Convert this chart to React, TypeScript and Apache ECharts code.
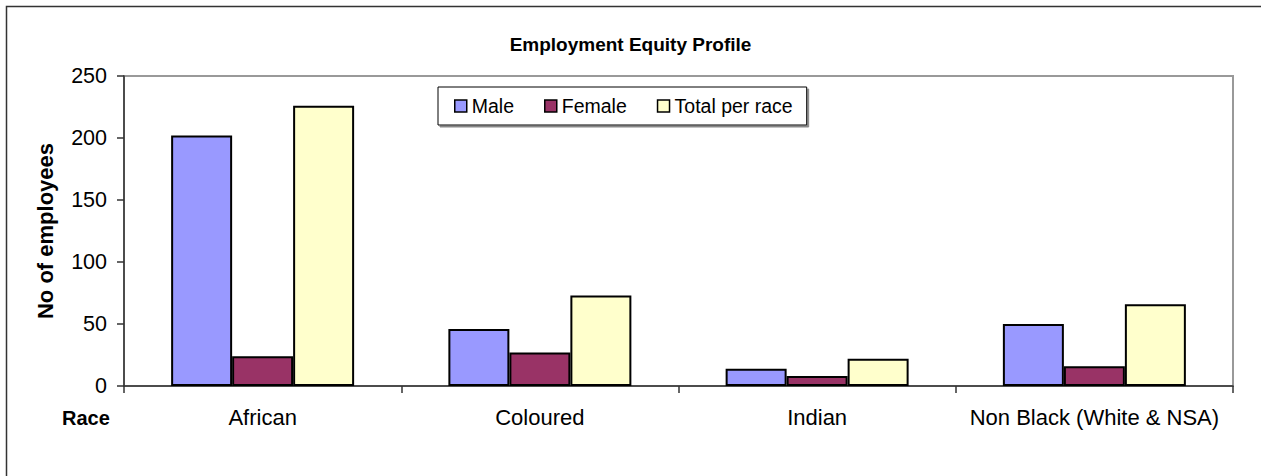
import React, { useEffect, useRef } from "react";
import * as echarts from "echarts";

const categories = ["African", "Coloured", "Indian", "Non Black (White & NSA)"];
const male = [202, 46, 14, 50];
const female = [24, 27, 8, 16];
const totalPerRace = [226, 73, 22, 66];
const seriesNames = ["Male", "Female", "Total per race"];

const FONT = "'Liberation Sans', Arial, sans-serif";

export default function App() {
  const ref = useRef<HTMLDivElement>(null);
  useEffect(() => {
    if (!ref.current) return;
    const chart = echarts.init(ref.current, null, { renderer: "svg" });
    const barStyle = (color: string) => ({ color, borderColor: "#000", borderWidth: 2 });
    chart.setOption({
      animation: false,
      backgroundColor: "#fff",
      textStyle: { fontFamily: FONT },
      title: {
        text: "Employment Equity Profile",
        left: "center",
        top: 30,
        textStyle: { fontFamily: FONT, fontSize: 19, fontWeight: "bold", color: "#000" },
      },
      legend: {
        left: 438,
        top: 87,
        padding: [9, 14, 9, 16],
        itemGap: 30,
        itemWidth: 12,
        itemHeight: 12,
        icon: "rect",
        borderColor: "#000",
        borderWidth: 1,
        backgroundColor: "#fff",
        shadowColor: "#888",
        shadowOffsetX: 2,
        shadowOffsetY: 2,
        shadowBlur: 0,
        textStyle: { fontFamily: FONT, fontSize: 19.5, color: "#000" },
        itemStyle: { borderColor: "#000", borderWidth: 1.5 },
        data: seriesNames,
      },
      grid: {
        left: 124,
        right: 28,
        top: 76,
        bottom: 90,
        show: true,
        borderColor: "#999",
        borderWidth: 2,
      },
      xAxis: {
        type: "category",
        data: categories,
        axisLine: { lineStyle: { color: "#333", width: 1.5 } },
        axisTick: { show: true, interval: 0, length: 7, lineStyle: { color: "#333", width: 1.5 } },
        axisLabel: { interval: 0, fontFamily: FONT, fontSize: 22, color: "#000", margin: 20 },
      },
      yAxis: {
        type: "value",
        min: 0,
        max: 250,
        interval: 50,
        name: "No of employees",
        nameLocation: "middle",
        nameRotate: 90,
        nameGap: 68,
        nameTextStyle: { fontFamily: FONT, fontSize: 22, fontWeight: "bold", color: "#000" },
        axisLine: { show: true, lineStyle: { color: "#333", width: 1.5 } },
        axisTick: { show: true, length: 7, lineStyle: { color: "#333", width: 1.5 } },
        axisLabel: { fontFamily: FONT, fontSize: 21.5, color: "#000", margin: 17 },
        splitLine: { show: false },
      },
      series: [
        { name: seriesNames[0], type: "bar", data: male, itemStyle: barStyle("#9999FF"), barGap: "0%", barCategoryGap: "34%" },
        { name: seriesNames[1], type: "bar", data: female, itemStyle: barStyle("#993366"), barGap: "0%", barCategoryGap: "34%" },
        { name: seriesNames[2], type: "bar", data: totalPerRace, itemStyle: barStyle("#FFFFCC"), barGap: "0%", barCategoryGap: "34%" },
      ],
      graphic: [
        {
          type: "rect",
          left: 4,
          top: 4,
          shape: { width: 1400, height: 600 },
          style: { fill: "none", stroke: "#333", lineWidth: 1.5 },
          z: -1,
          silent: true,
        },
        {
          type: "text",
          left: 62,
          top: 408,
          style: { text: "Race", font: `bold 20px ${FONT}`, fill: "#000" },
        },
      ],
    });
    return () => chart.dispose();
  }, []);
  return <div ref={ref} style={{ width: 1261, height: 476, position: "absolute", left: 0, top: 0 }} />;
}
